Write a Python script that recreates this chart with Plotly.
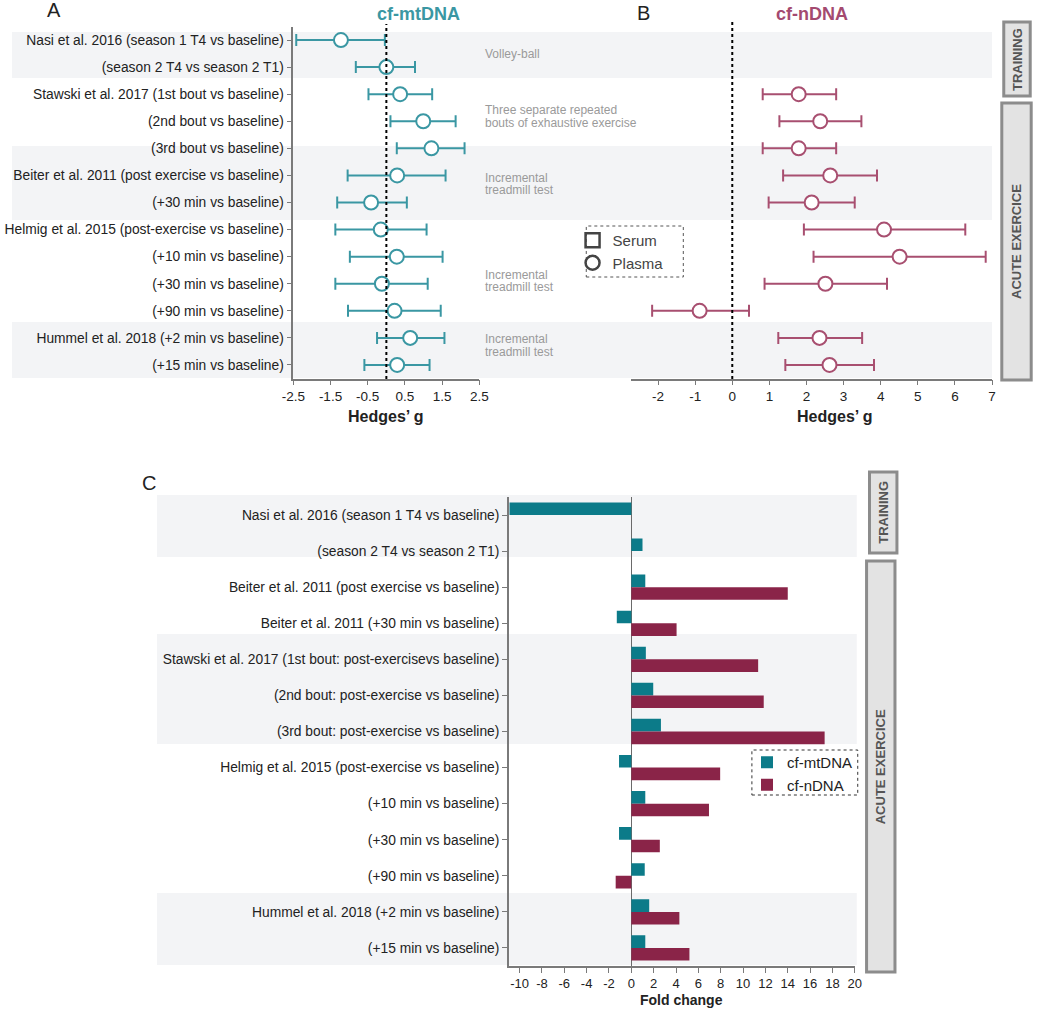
import plotly.graph_objects as go

W, H = 1050, 1012
FONT = "Arial, 'Liberation Sans', sans-serif"

TEAL_A = "#3a97a3"
PINK_B = "#a84f70"
TEAL_C = "#0c7b89"
MAROON_C = "#8a2448"
GREY_BAND = "#f3f4f6"
AXIS_COL = "#7a7a7a"

# ---------------- data: panels A & B (Hedges' g) ----------------
ab_labels = [
    "Nasi et al. 2016 (season 1 T4 vs baseline)",
    "(season 2 T4 vs season 2 T1)",
    "Stawski et al. 2017 (1st bout vs baseline)",
    "(2nd bout vs baseline)",
    "(3rd bout vs baseline)",
    "Beiter et al. 2011 (post exercise vs baseline)",
    "(+30 min vs baseline)",
    "Helmig et al. 2015 (post-exercise vs baseline)",
    "(+10 min vs baseline)",
    "(+30 min vs baseline)",
    "(+90 min vs baseline)",
    "Hummel et al. 2018 (+2 min vs baseline)",
    "(+15 min vs baseline)",
]
mt_g = [-1.22, 0.00, 0.37, 0.99, 1.21, 0.29, -0.41, -0.15, 0.28, -0.12, 0.22, 0.64, 0.29]
mt_lo = [-2.42, -0.82, -0.48, 0.11, 0.28, -1.04, -1.32, -1.37, -0.98, -1.37, -1.03, -0.25, -0.59]
mt_hi = [-0.04, 0.77, 1.23, 1.86, 2.10, 1.59, 0.55, 1.08, 1.51, 1.11, 1.46, 1.56, 1.16]

n_g = [None, None, 1.79, 2.37, 1.79, 2.64, 2.14, 4.09, 4.51, 2.51, -0.88, 2.35, 2.62]
n_lo = [None, None, 0.82, 1.27, 0.82, 1.37, 0.98, 1.93, 2.19, 0.87, -2.16, 1.24, 1.43]
n_hi = [None, None, 2.80, 3.48, 2.80, 3.90, 3.30, 6.28, 6.83, 4.17, 0.45, 3.50, 3.82]

a_ticks = [-2.5, -1.5, -0.5, 0.5, 1.5, 2.5]
a_ticktext = ["-2.5", "-1.5", "-0.5", "0.5", "1.5", "2.5"]
b_ticks = [-2, -1, 0, 1, 2, 3, 4, 5, 6, 7]
b_ticktext = ["-2", "-1", "0", "1", "2", "3", "4", "5", "6", "7"]

# ---------------- data: panel C (fold change) ----------------
c_labels = [
    "Nasi et al. 2016 (season 1 T4 vs baseline)",
    "(season 2 T4 vs season 2 T1)",
    "Beiter et al. 2011 (post exercise vs baseline)",
    "Beiter et al. 2011 (+30 min vs baseline)",
    "Stawski et al. 2017 (1st bout: post-exercisevs baseline)",
    "(2nd bout: post-exercise vs baseline)",
    "(3rd bout: post-exercise vs baseline)",
    "Helmig et al. 2015 (post-exercise vs baseline)",
    "(+10 min vs baseline)",
    "(+30 min vs baseline)",
    "(+90 min vs baseline)",
    "Hummel et al. 2018 (+2 min vs baseline)",
    "(+15 min vs baseline)",
]
fc_mt = [-10.9, 1.0, 1.25, -1.3, 1.3, 1.96, 2.65, -1.1, 1.25, -1.1, 1.2, 1.6, 1.25]
fc_n = [None, None, 14.0, 4.05, 11.35, 11.85, 17.3, 7.95, 6.95, 2.55, -1.4, 4.3, 5.2]
c_ticks = [-10, -8, -6, -4, -2, 0, 2, 4, 6, 8, 10, 12, 14, 16, 18, 20]
c_ticktext = ["-10", "-8", "-6", "-4", "-2", "0", "2", "4", "6", "8", "10",
              "12", "14", "16", "18", "20"]


def px(x):
    return x / W


def py(y):
    return 1 - y / H


def err_plus(c, h):
    return [None if v is None else hv - v for v, hv in zip(c, h)]


def err_minus(c, l):
    return [None if v is None else v - lv for v, lv in zip(c, l)]


rows_ab = list(range(len(ab_labels)))
rows_c = list(range(len(c_labels)))

fig = go.Figure()

# Panel A
fig.add_trace(go.Scatter(
    x=mt_g, y=rows_ab, mode="markers", xaxis="x", yaxis="y", showlegend=False,
    marker=dict(symbol="circle", size=14, color="white", line=dict(color=TEAL_A, width=2)),
    error_x=dict(type="data", symmetric=False, array=err_plus(mt_g, mt_hi),
                 arrayminus=err_minus(mt_g, mt_lo), color=TEAL_A, thickness=2, width=6),
    cliponaxis=False,
))
# Panel B
fig.add_trace(go.Scatter(
    x=n_g, y=rows_ab, mode="markers", xaxis="x2", yaxis="y2", showlegend=False,
    marker=dict(symbol="circle", size=14, color="white", line=dict(color=PINK_B, width=2)),
    error_x=dict(type="data", symmetric=False, array=err_plus(n_g, n_hi),
                 arrayminus=err_minus(n_g, n_lo), color=PINK_B, thickness=2, width=6),
    cliponaxis=False,
))
# Serum / Plasma legend
fig.add_trace(go.Scatter(
    x=[None], y=[None], mode="markers", name="Serum", xaxis="x2", yaxis="y2", legend="legend",
    marker=dict(symbol="square-open", size=14, color="#444444", line=dict(width=2.5)),
))
fig.add_trace(go.Scatter(
    x=[None], y=[None], mode="markers", name="Plasma", xaxis="x2", yaxis="y2", legend="legend",
    marker=dict(symbol="circle-open", size=14, color="#444444", line=dict(width=2.5)),
))

# Panel C bars
fig.add_trace(go.Bar(
    y=rows_c, x=fc_mt, orientation="h", name="cf-mtDNA", xaxis="x3", yaxis="y3",
    marker=dict(color=TEAL_C, line=dict(width=0)), legend="legend2",
))
fig.add_trace(go.Bar(
    y=rows_c, x=fc_n, orientation="h", name="cf-nDNA", xaxis="x3", yaxis="y3",
    marker=dict(color=MAROON_C, line=dict(width=0)), legend="legend2",
))

shapes = []
# grey bands A/B
for y0, y1 in [(32, 78), (146, 220), (322, 378)]:
    shapes.append(dict(type="rect", xref="paper", yref="paper", x0=0, x1=px(1000),
                       y0=py(y1), y1=py(y0), fillcolor=GREY_BAND, line=dict(width=0), layer="below"))
# grey bands C
for y0, y1 in [(495, 557), (634, 744), (893, 965)]:
    shapes.append(dict(type="rect", xref="paper", yref="paper", x0=px(148), x1=px(862),
                       y0=py(y1), y1=py(y0), fillcolor=GREY_BAND, line=dict(width=0), layer="below"))
# dotted zero lines
shapes.append(dict(type="line", xref="x", yref="paper", x0=0, x1=0, y0=py(379), y1=py(24),
                   line=dict(color="black", width=2, dash="dot")))
shapes.append(dict(type="line", xref="x2", yref="paper", x0=0, x1=0, y0=py(379), y1=py(20),
                   line=dict(color="black", width=2, dash="dot")))
# legend borders (dotted)
shapes.append(dict(type="rect", xref="paper", yref="paper", x0=px(586), x1=px(685),
                   y0=py(277), y1=py(226), line=dict(color="#555555", width=1, dash="dot"),
                   fillcolor="rgba(0,0,0,0)"))
shapes.append(dict(type="rect", xref="paper", yref="paper", x0=px(755), x1=px(863),
                   y0=py(795), y1=py(750), line=dict(color="#333333", width=1, dash="dot"),
                   fillcolor="rgba(0,0,0,0)"))
# side boxes
side_boxes = [
    (1012, 1039, 22, 96, "TRAINING"),
    (1010, 1040, 103, 380, "ACUTE EXERCICE"),
    (875, 903, 472, 553, "TRAINING"),
    (872, 901, 561, 972, "ACUTE EXERCICE"),
]
annotations = []
for x0, x1, y0, y1, txt in side_boxes:
    shapes.append(dict(type="rect", xref="paper", yref="paper", x0=px(x0), x1=px(x1),
                       y0=py(y1), y1=py(y0), fillcolor="#e3e3e3",
                       line=dict(color="#8c8c8c", width=3)))
    annotations.append(dict(xref="paper", yref="paper", x=px((x0 + x1) / 2), y=py((y0 + y1) / 2),
                            text=f"<b>{txt}</b>", textangle=-90, showarrow=False,
                            font=dict(size=13, color="#555555", family=FONT),
                            xanchor="center", yanchor="middle"))


def ann(x, y, text, size=13, color="#222222", xanchor="center", bold=False):
    annotations.append(dict(xref="paper", yref="paper", x=px(x), y=py(y),
                            text=f"<b>{text}</b>" if bold else text, showarrow=False,
                            font=dict(size=size, color=color, family=FONT),
                            xanchor=xanchor, yanchor="middle"))


ann(43, 10, "A", size=20)
ann(644, 13, "B", size=20)
ann(140, 483, "C", size=20)
ann(415, 14, "cf-mtDNA", size=18, color=TEAL_A, bold=True)
ann(816, 14, "cf-nDNA", size=18, color="#a44a70", bold=True)
ann(382, 416, "Hedges’ g", size=16, bold=True)
ann(840, 416, "Hedges’ g", size=16, bold=True)
ann(683, 1000, "Fold change", size=14, bold=True)

for y, txt in [(54, "Volley-ball"),
               (110, "Three separate repeated"), (123, "bouts of exhaustive exercise"),
               (178, "Incremental"), (190, "treadmill test"),
               (275, "Incremental"), (287, "treadmill test"),
               (339, "Incremental"), (352, "treadmill test")]:
    ann(481, y, txt, size=12, color="#9a9a9a", xanchor="left")

axis_common = dict(showline=True, linecolor=AXIS_COL, linewidth=1.5, ticks="outside",
                   ticklen=5, tickcolor=AXIS_COL, tickwidth=1.2, showgrid=False, zeroline=False,
                   tickfont=dict(size=13.5, color="#222222", family=FONT))
ylab_common = {**axis_common, "tickfont": dict(size=13.8, color="#222222", family=FONT)}

ab_dom = [py(378.5), py(26.5)]

fig.update_layout(
    width=W, height=H, margin=dict(l=0, r=0, t=0, b=0),
    paper_bgcolor="white", plot_bgcolor="rgba(0,0,0,0)",
    font=dict(family=FONT, color="#222222"),
    barmode="group", bargap=0.3, bargroupgap=0.0,
    xaxis=dict(domain=[px(287), px(477)], range=[-2.5, 2.5], anchor="y",
               tickvals=a_ticks, ticktext=a_ticktext, **axis_common),
    yaxis=dict(domain=ab_dom, range=[12.5, -0.5], anchor="x", tickvals=rows_ab,
               ticktext=ab_labels, **ylab_common),
    xaxis2=dict(domain=[px(632), px(1000)], range=[-2.72, 7], anchor="y2",
                tickvals=b_ticks, ticktext=b_ticktext, **axis_common),
    yaxis2=dict(domain=ab_dom, range=[12.5, -0.5], anchor="x2", visible=False),
    xaxis3=dict(domain=[px(507), px(860)], range=[-10.96, 20], anchor="y3", tickvals=c_ticks,
                ticktext=c_ticktext,
                **{**axis_common, "zeroline": True, "tickfont": dict(size=13, color="#222222", family=FONT)},
                zerolinecolor="#6a6a6a", zerolinewidth=1.2),
    yaxis3=dict(domain=[py(966), py(497)], range=[12.5, -0.5], anchor="x3", tickvals=rows_c,
                ticktext=c_labels, **ylab_common),
    legend=dict(x=px(572), y=py(224), xanchor="left", yanchor="top", bgcolor="rgba(0,0,0,0)",
                borderwidth=0, font=dict(size=15, color="#444444", family=FONT), itemwidth=30,
                tracegroupgap=0),
    legend2=dict(x=px(750), y=py(746), xanchor="left", yanchor="top", bgcolor="rgba(0,0,0,0)",
                 borderwidth=0, font=dict(size=15, color="#222222", family=FONT), itemwidth=30,
                 tracegroupgap=0),
    shapes=shapes,
    annotations=annotations,
)

fig.write_html("out.html", config={"displayModeBar": False},
               post_script="document.body.style.margin='0';document.body.style.overflow='hidden';")
